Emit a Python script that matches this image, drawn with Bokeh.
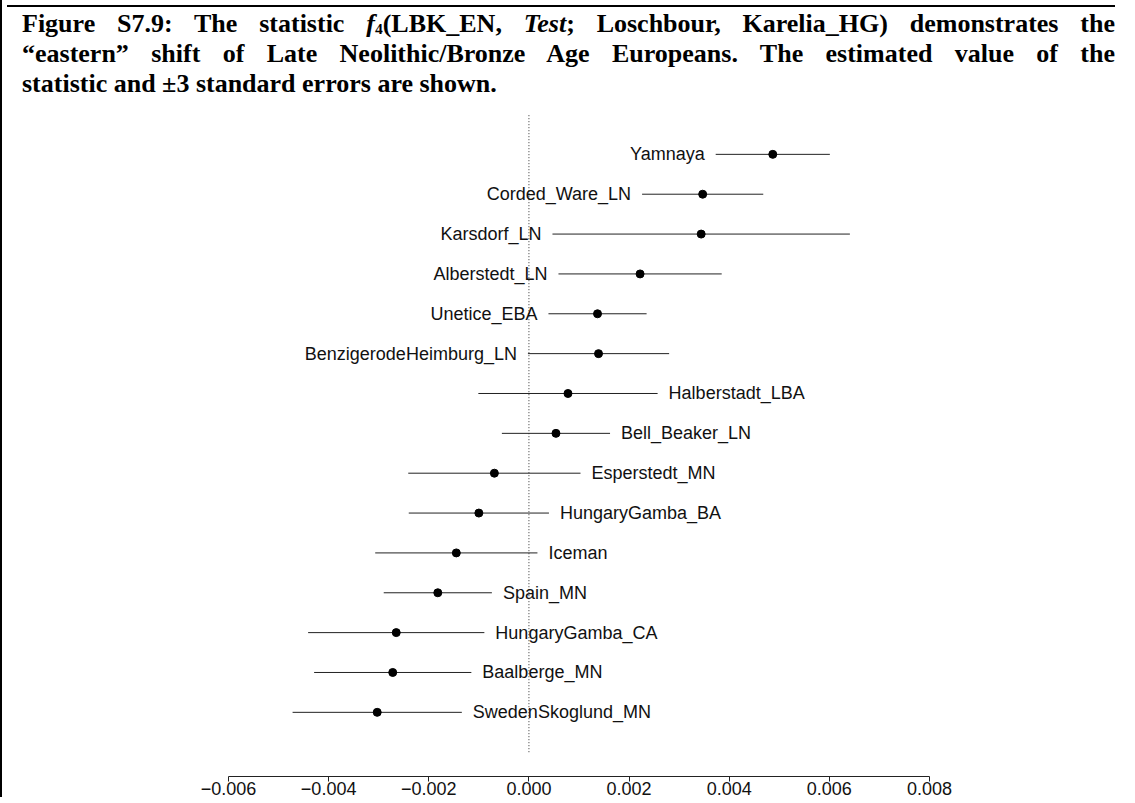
from bokeh.plotting import figure
from bokeh.models import Range1d, FixedTicker, ColumnDataSource, Div
from bokeh.layouts import column
from bokeh.core.properties import value
from bokeh.embed import file_html
from bokeh.resources import INLINE

# ---------------- data ----------------
populations = ["Yamnaya", "Corded_Ware_LN", "Karsdorf_LN", "Alberstedt_LN", "Unetice_EBA",
               "BenzigerodeHeimburg_LN", "Halberstadt_LBA", "Bell_Beaker_LN", "Esperstedt_MN",
               "HungaryGamba_BA", "Iceman", "Spain_MN", "HungaryGamba_CA", "Baalberge_MN",
               "SwedenSkoglund_MN"]
estimates = [0.00487, 0.00347, 0.00344, 0.00222, 0.00137, 0.00139, 0.00078, 0.00054,
             -0.00069, -0.00100, -0.00145, -0.00182, -0.00265, -0.00272, -0.00303]
three_se = [0.00114, 0.00121, 0.00297, 0.00163, 0.00098, 0.00141, 0.00179, 0.00108,
            0.00172, 0.00140, 0.00162, 0.00108, 0.00176, 0.00157, 0.00169]
tick_values = [-0.006, -0.004, -0.002, 0.0, 0.002, 0.004, 0.006, 0.008]
tick_labels = ["\u22120.006", "\u22120.004", "\u22120.002", "0.000", "0.002", "0.004", "0.006", "0.008"]
reference_value = 0.0

title_lines = [
    "Figure S7.9: The statistic <i>f</i><sub>4</sub>(LBK_EN, <i>Test</i>; Loschbour, Karelia_HG) demonstrates the",
    "\u201ceastern\u201d shift of Late Neolithic/Bronze Age Europeans. The estimated value of the",
    "statistic and \u00b13 standard errors are shown.",
]

# ---------------- derived ----------------
n = len(populations)
ys = [n - i for i in range(n)]
lo = [e - s for e, s in zip(estimates, three_se)]
hi = [e + s for e, s in zip(estimates, three_se)]
left_side = [e > 0.001 for e in estimates]

src = ColumnDataSource(dict(pop=populations, est=estimates, lo=lo, hi=hi, y=ys))
src_left = ColumnDataSource(dict(
    pop=[p for p, l in zip(populations, left_side) if l],
    x=[a for a, l in zip(lo, left_side) if l],
    y=[y for y, l in zip(ys, left_side) if l]))
src_right = ColumnDataSource(dict(
    pop=[p for p, l in zip(populations, left_side) if not l],
    x=[b for b, l in zip(hi, left_side) if not l],
    y=[y for y, l in zip(ys, left_side) if not l]))

p = figure(output_backend="svg", toolbar_location=None,
           frame_width=701, frame_height=662,
           x_range=Range1d(tick_values[0], tick_values[-1]),
           y_range=Range1d(-0.61, n + 1.0),
           y_axis_type=None,
           min_border_left=226, min_border_right=190, min_border_top=6, min_border_bottom=0)
p.outline_line_color = None
p.xgrid.visible = False
p.ygrid.visible = False
p.background_fill_color = "white"
p.border_fill_color = "white"

# reference dotted line
p.segment(x0=[reference_value], x1=[reference_value], y0=[0], y1=[n + 1.0],
          line_color="#333333", line_width=1, line_dash="1 2")

# error bars (estimate +/- 3 SE)
p.segment(x0="lo", x1="hi", y0="y", y1="y", source=src, line_color="#222222", line_width=1)
# point estimates
p.scatter(x="est", y="y", source=src, size=8, fill_color="black", line_color="black")

# population labels
p.text(x="x", y="y", text="pop", source=src_left, text_align="right", text_baseline="middle",
       x_offset=-11, text_font=value("Liberation Sans"), text_font_size="18px", text_color="#111111")
p.text(x="x", y="y", text="pop", source=src_right, text_align="left", text_baseline="middle",
       x_offset=11, text_font=value("Liberation Sans"), text_font_size="18px", text_color="#111111")

ax = p.xaxis[0]
ax.ticker = FixedTicker(ticks=tick_values)
ax.major_label_overrides = {t: l for t, l in zip(tick_values, tick_labels)}
ax.axis_line_color = "#222222"
ax.major_tick_line_color = "#222222"
ax.major_tick_out = 5
ax.major_tick_in = 0
ax.minor_tick_out = 0
ax.minor_tick_in = 0
ax.major_label_standoff = 0
ax.major_label_text_font = "Liberation Sans"
ax.major_label_text_font_size = "18px"
ax.major_label_text_color = "#111111"

line_style = ("font-family:'Liberation Serif','Times New Roman',serif;font-weight:bold;"
              "font-size:26px;line-height:30px;color:#000;white-space:nowrap;")
html = ['<div style="border-top:2px solid #000;width:1108px;padding:2px 0 0 15px;">']
for i, t in enumerate(title_lines):
    t = t.replace("<sub>", '<sub style="font-size:0.6em;vertical-align:-0.1em;line-height:0;">')
    align = "text-align:justify;text-align-last:justify;" if i < len(title_lines) - 1 else "text-align:left;"
    html.append(f'<div style="{line_style}{align}">{t}</div>')
html.append("</div>")
title_div = Div(text="".join(html), width=1125, height=98)

layout = column(title_div, p, styles={"border-left": "2px solid #000"})

open("out.html", "w").write(file_html(layout, INLINE))
